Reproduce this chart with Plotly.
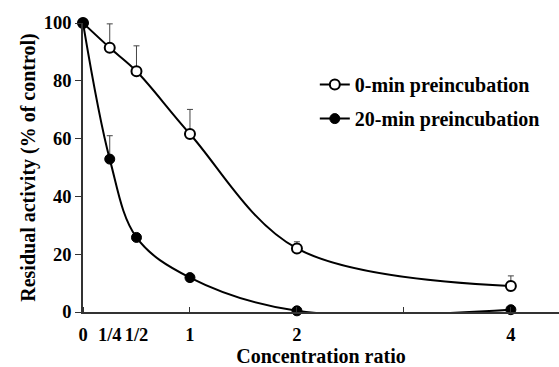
import plotly.graph_objects as go

ratio = [0, 0.25, 0.5, 1, 2, 4]
pre0 = [100, 91.4, 83.3, 61.6, 22.0, 9.0]
pre0_err = [0, 8.3, 8.8, 8.5, 2.3, 3.5]
pre20 = [100, 52.9, 25.8, 11.9, 0.4, 0.8]
pre20_err = [0, 8.1, 0, 0, 0, 0]
tick_vals = [0, 0.25, 0.5, 1, 2, 4]
tick_text = ["0", "1/4", "1/2", "1", "2", "4"]
yticks = [0, 20, 40, 60, 80, 100]

FONT = "Liberation Serif, Times New Roman, serif"

fig = go.Figure()
fig.add_trace(go.Scatter(
    x=ratio, y=pre0, mode="lines+markers", name="<b>0-min preincubation</b>",
    line=dict(color="black", width=2, shape="spline", smoothing=1),
    marker=dict(symbol="circle", size=10, color="white", line=dict(color="black", width=2)),
    error_y=dict(type="data", array=pre0_err, arrayminus=[0]*6, symmetric=False,
                 color="#444", thickness=1, width=3),
    legendgroup="a", cliponaxis=False,
))
fig.add_trace(go.Scatter(
    x=ratio, y=pre20, mode="lines+markers", name="<b>20-min preincubation</b>",
    line=dict(color="black", width=2, shape="spline", smoothing=1),
    marker=dict(symbol="circle", size=10, color="black", line=dict(color="black", width=1)),
    error_y=dict(type="data", array=pre20_err, arrayminus=[0]*6, symmetric=False,
                 color="#444", thickness=1, width=3),
    legendgroup="b", cliponaxis=False,
))

fig.update_layout(
    width=559, height=367,
    margin=dict(l=83, r=0, t=23, b=55),
    plot_bgcolor="white", paper_bgcolor="white",
    font=dict(family=FONT, size=19, color="black"),
    showlegend=True,
    legend=dict(x=0.487, y=0.728, xanchor="left", yanchor="middle",
                font=dict(family=FONT, size=20, color="black"),
                bgcolor="rgba(0,0,0,0)", tracegroupgap=5, itemwidth=30),
    xaxis=dict(
        range=[0, 4.45], tickmode="array", tickvals=tick_vals, ticktext=["<b>%s</b>" % t for t in tick_text],
        ticks="", showgrid=False, zeroline=False, showline=True, linecolor="#333", linewidth=1.5,
        tickfont=dict(family=FONT, size=18.5, color="black"), ticklabelstandoff=5,
        minor=dict(tickmode="array", tickvals=[0, 1, 2, 3, 4], ticks="inside", ticklen=5,
                   tickwidth=1, tickcolor="#333", showgrid=False),
        title=dict(text="<b>Concentration ratio</b>", font=dict(family=FONT, size=20), standoff=4),
    ),
    yaxis=dict(
        range=[0, 100], tickmode="array", tickvals=yticks, ticktext=["<b>%d</b>" % v for v in yticks],
        ticks="outside", ticklen=6, tickwidth=1, tickcolor="#333",
        showgrid=False, zeroline=False, showline=True, linecolor="#333", linewidth=1.5,
        tickfont=dict(family=FONT, size=18.5, color="black"),
        title=dict(text="<b>Residual activity (% of control)</b>", font=dict(family=FONT, size=20), standoff=3),
    ),
)

fig.write_html("out.html", config={"displayModeBar": False},
               post_script="document.body.style.margin='0';document.body.style.overflow='hidden';")
